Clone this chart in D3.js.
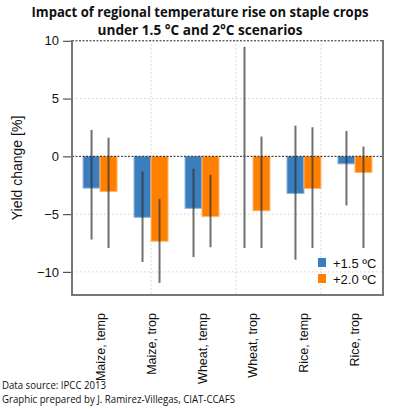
<!DOCTYPE html>
<html><head><meta charset="utf-8">
<script src="https://cdn.jsdelivr.net/npm/d3@7"></script>
<style>body{margin:0;background:#fff}svg{display:block}</style>
</head><body>
<script>
const categories = ["Maize, temp","Maize, trop","Wheat, temp","Wheat, trop","Rice, temp","Rice, trop"];
const series = ["+1.5 ºC","+2.0 ºC"];
const mean15 = [-2.75,-5.28,-4.5,0,-3.21,-0.65];
const mean20 = [-3.04,-7.35,-5.22,-4.71,-2.78,-1.4];
const low15 = [-7.2,-9.14,-8.71,-7.93,-8.94,-4.25];
const high15 = [2.29,-1.31,-1.08,9.48,2.66,2.2];
const low20 = [-7.93,-10.95,-7.87,-7.93,-7.93,-7.93];
const high20 = [1.62,-3.7,-1.6,1.71,2.52,0.85];
const yTicks = [-10,-5,0,5,10];
const gridX = [5,10,15];

const W=400,H=409;
const svg=d3.select("body").append("svg").attr("width",W).attr("height",H);
const L=72,R=383,T=40,B=295;
const x=d3.scaleLinear().domain([0.35,18.65]).range([L,R]);
const y=d3.scaleLinear().domain([-12,10]).range([B,40.8]);
const colors=["#3a7ebd","#ff8000"];
const strokes=["#8fb6dc","#ffb873"];

svg.append("g").selectAll("line.h").data([-10,-5,5]).join("line")
 .attr("x1",L).attr("x2",R).attr("y1",d=>y(d)).attr("y2",d=>y(d))
 .attr("stroke","#d0d0d0").attr("stroke-dasharray","1.5,2.5").attr("stroke-width",1);
svg.append("g").selectAll("line.v").data(gridX).join("line")
 .attr("x1",d=>x(d)).attr("x2",d=>x(d)).attr("y1",T).attr("y2",B)
 .attr("stroke","#d0d0d0").attr("stroke-dasharray","1.5,2.5").attr("stroke-width",1);

const data=[];
categories.forEach((c,i)=>{
  data.push({i,s:0,v:mean15[i],lo:low15[i],hi:high15[i]});
  data.push({i,s:1,v:mean20[i],lo:low20[i],hi:high20[i]});
});
const xl=d=>3*d.i+1+d.s;
svg.append("g").selectAll("rect").data(data.filter(d=>d.v!==0)).join("rect")
 .attr("x",d=>x(xl(d))).attr("width",d=>x(xl(d)+1)-x(xl(d)))
 .attr("y",d=>y(Math.max(0,d.v))).attr("height",d=>Math.abs(y(d.v)-y(0)))
 .attr("fill",d=>colors[d.s]).attr("stroke",d=>strokes[d.s]).attr("stroke-width",1);

svg.append("g").selectAll("line.r").data([0,10]).join("line")
 .attr("x1",L).attr("x2",R).attr("y1",d=>y(d)).attr("y2",d=>y(d))
 .attr("stroke","#222").attr("stroke-dasharray","2,1.5").attr("stroke-width",1);

svg.append("g").selectAll("line.e").data(data).join("line")
 .attr("x1",d=>x(xl(d)+0.5)).attr("x2",d=>x(xl(d)+0.5))
 .attr("y1",d=>y(d.lo)).attr("y2",d=>y(d.hi))
 .attr("stroke","rgba(50,50,50,0.7)").attr("stroke-width",2);

svg.append("path").attr("d",`M${L},${T}V${B}H${R}V${T}`).attr("fill","none")
 .attr("stroke","#777").attr("stroke-width",2);

const ya=svg.append("g").attr("transform",`translate(${L-1},0)`)
 .call(d3.axisLeft(y).tickValues(yTicks).tickSize(8).tickPadding(4).tickFormat(d=>d<0?"\u2212"+Math.abs(d):d));
ya.select(".domain").remove();
ya.selectAll("line").attr("stroke","#555").attr("stroke-width",1.2);
ya.selectAll("text").attr("font-family","Liberation Sans, Arial, sans-serif").attr("font-size",13).attr("fill","#111");

svg.append("text").attr("transform",`translate(22,168) rotate(-90)`).attr("text-anchor","middle")
 .attr("font-family","Liberation Sans, Arial, sans-serif").attr("font-size",14).attr("fill","#111").text("Yield change [%]");

svg.append("g").selectAll("text").data(categories).join("text")
 .attr("transform",(d,i)=>`translate(${x(3*i+2)+4.5},313) rotate(-90)`).attr("text-anchor","end")
 .attr("font-family","Liberation Sans, Arial, sans-serif").attr("font-size",12.5).attr("fill","#111").text(d=>d);

const lg=svg.append("g");
series.forEach((s,k)=>{
  lg.append("rect").attr("x",318).attr("y",258+k*16).attr("width",8).attr("height",9).attr("fill",colors[k]);
  lg.append("text").attr("x",333).attr("y",267.5+k*16).attr("font-family","Liberation Sans, Arial, sans-serif")
   .attr("font-size",13).attr("fill","#111").text(s);
});

const tf="Open Sans, sans-serif";
svg.append("text").attr("x",200).attr("y",16.5).attr("text-anchor","middle").attr("font-family",tf)
 .attr("font-weight","bold").attr("font-size",13.5).attr("textLength",337).attr("lengthAdjust","spacingAndGlyphs")
 .attr("fill","#111").text("Impact of regional temperature rise on staple crops");
svg.append("text").attr("x",200).attr("y",35).attr("text-anchor","middle").attr("font-family",tf)
 .attr("font-weight","bold").attr("font-size",13.5).attr("textLength",205).attr("lengthAdjust","spacingAndGlyphs")
 .attr("fill","#111").text("under 1.5 °C  and 2°C scenarios");

svg.append("text").attr("x",2).attr("y",389).attr("font-family",tf).attr("font-size",10)
 .attr("textLength",104).attr("lengthAdjust","spacingAndGlyphs").attr("fill","#111").text("Data source: IPCC 2013");
svg.append("text").attr("x",2).attr("y",403).attr("font-family",tf).attr("font-size",10)
 .attr("textLength",233).attr("lengthAdjust","spacingAndGlyphs").attr("fill","#111").text("Graphic prepared by J. Ramirez-Villegas, CIAT-CCAFS");
</script>
</body></html>
